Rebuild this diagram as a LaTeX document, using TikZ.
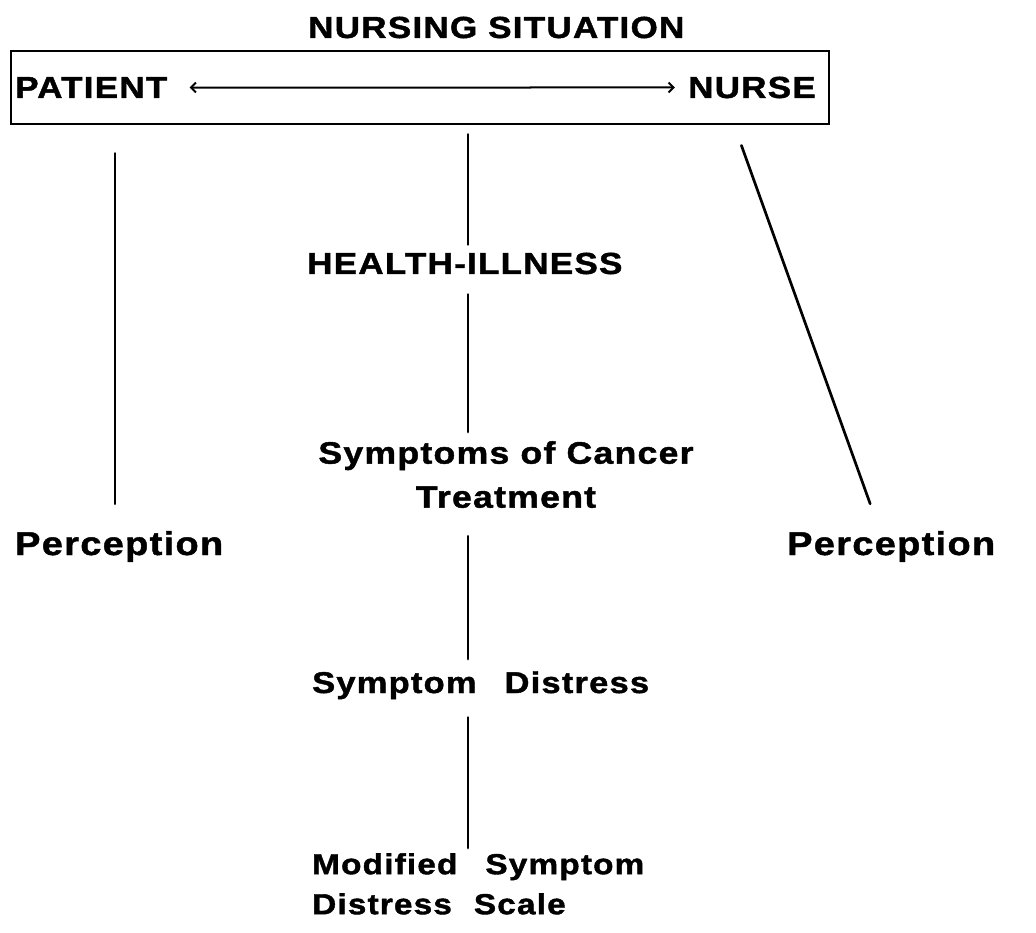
\documentclass[tikz,border=0pt]{standalone}
\usepackage{fontspec}
\setmainfont{Liberation Sans}
\newfontfamily\lbf{Liberation Sans}[UprightFont=* Bold, FakeStretch=1.15, LetterSpace=4, FakeBold=1.4]
\usetikzlibrary{arrows.meta}
\newcommand{\fsz}[2]{\lbf\fontsize{#1}{#2}\selectfont}
\tikzset{
  lab/.style={inner sep=0pt, font=\fsz{30.5}{36}},
  link/.style={line width=2.7pt, line cap=round},
  frame/.style={draw, line width=2.4pt, inner sep=0pt},
}
\begin{document}
\begin{tikzpicture}[x=1pt,y=-1pt]
\useasboundingbox (0,0) rectangle (1036,933);
% title and frame
\node[lab, anchor=base west] (title) at (308,38) {NURSING SITUATION};
\node[frame, anchor=north west, minimum width=818pt, minimum height=73pt] (box) at (10,50) {};
\node[lab, anchor=base west] (patient) at (15,98) {PATIENT};
\node[lab, anchor=base east] (nurse) at (816,98) {NURSE};
\draw[line width=2pt, {Straight Barb[length=5pt,width=10pt]}-{Straight Barb[length=5pt,width=10pt]}]
  ([xshift=22pt]patient.east) -- ([xshift=-13pt]nurse.west);
% middle column
\node[lab, anchor=base west] (health) at (307,274) {HEALTH-ILLNESS};
\node[lab, font=\fsz{31}{44}, anchor=north, align=center] (sympt) at (506,441) {Symptoms of Cancer\\Treatment};
\node[lab, font=\fsz{30}{36}, anchor=base west] (distress) at (312,693) {Symptom\hspace{28pt}Distress};
\node[lab, font=\fsz{29}{40}, anchor=north west, align=left] (msds) at (312,853) {Modified\hspace{28pt}Symptom\\Distress\hspace{22pt}Scale};
% side labels
\node[lab, font=\fsz{33}{36}, anchor=base west] (percL) at (15,555) {Perception};
\node[lab, font=\fsz{33}{36}, anchor=base west] (percR) at (787,555) {Perception};
% connectors
\coordinate (mx) at (468,0);
\coordinate (lx) at (115,0);
\draw[link] ([yshift=-9pt]box.south -| mx) -- ([yshift=8pt]health.north -| mx);
\draw[link] ([yshift=-20pt]health.south -| mx) -- ([yshift=9pt]sympt.north -| mx);
\draw[link] ([yshift=-28pt]sympt.south -| mx) -- ([yshift=12pt]distress.north -| mx);
\draw[link] ([yshift=-18pt]distress.south -| mx) -- ([yshift=5pt]msds.north -| mx);
\draw[link] ([yshift=-28pt]box.south -| lx) -- ([yshift=27pt]percL.north -| lx);
\draw[link] ([xshift=-89pt,yshift=-20pt]box.south east) -- ([xshift=-21pt,yshift=27pt]percR.north);
\end{tikzpicture}
\end{document}
